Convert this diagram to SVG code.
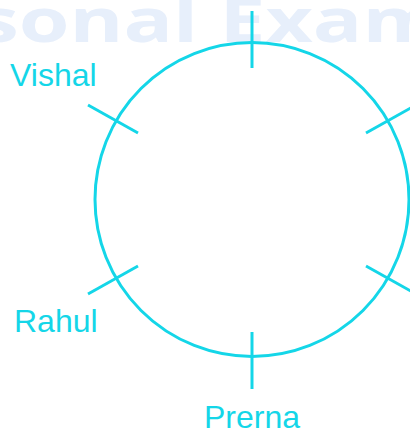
<svg xmlns="http://www.w3.org/2000/svg" width="410" height="434" viewBox="0 0 410 434">
<style>
.ln{stroke:#14d6e8;stroke-width:3;fill:none;stroke-linecap:butt}
.lbl{font-family:"Liberation Sans",Arial,sans-serif;font-size:32px;fill:#14d6e8}
.wm{font-family:"Open Sans","DejaVu Sans",sans-serif;font-weight:bold;font-size:60px;fill:#e7effb}
</style>
<rect width="410" height="434" fill="#ffffff"/>
<text class="wm" x="-22" y="42" textLength="465" lengthAdjust="spacingAndGlyphs">sonal Exam</text>
<g id="table">
<circle class="ln" cx="252" cy="199.5" r="157"/>
</g>
<g id="connectors">
<line class="ln" x1="252" y1="11" x2="252" y2="68"/>
<line class="ln" x1="252" y1="332" x2="252" y2="389"/>
<line class="ln" x1="88" y1="105" x2="138" y2="133"/>
<line class="ln" x1="88" y1="294" x2="138" y2="266"/>
<line class="ln" x1="366" y1="133" x2="416" y2="105"/>
<line class="ln" x1="366" y1="266" x2="416" y2="294"/>
</g>
<g id="vishal"><text class="lbl" x="10" y="86">Vishal</text></g>
<g id="rahul"><text class="lbl" x="14" y="332">Rahul</text></g>
<g id="prerna"><text class="lbl" x="252" y="428" text-anchor="middle">Prerna</text></g>
</svg>
